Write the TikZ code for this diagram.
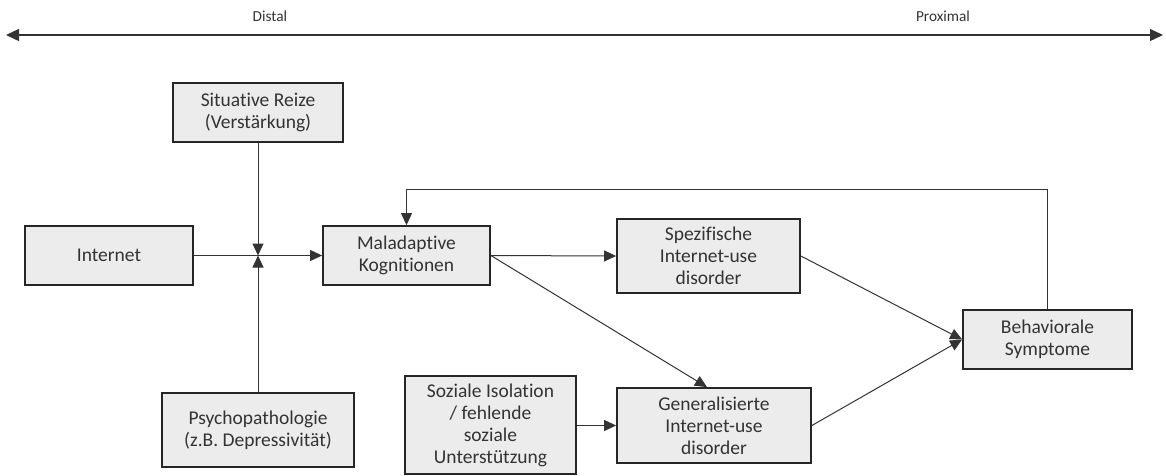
\documentclass[tikz,border=0pt]{standalone}
\usepackage{fontspec}
\setmainfont{Carlito}[Ligatures=NoCommon]
\usetikzlibrary{arrows.meta}
\tikzset{
  box/.style={draw=black!85, line width=1.8pt, fill=gray!15, align=center, inner sep=2pt,
    text=black!80, font=\fontsize{19.5}{22}\selectfont},
  lbl/.style={font=\fontsize{15.3}{18}\selectfont, inner sep=0pt, text=black!80},
  conn/.style={line width=1pt, draw=black!80},
  arr/.style={conn, -{Triangle[length=12pt,width=11pt]}},
}
\begin{document}
\begin{tikzpicture}[x=1pt,y=-1pt]
\useasboundingbox (0,0) rectangle (1166,475);
% axis
\coordinate (L) at (6,35);
\coordinate (R) at (1163,35);
\draw[conn, line width=1.3pt, {Triangle[length=13pt,width=12pt]}-{Triangle[length=13pt,width=12pt]}] (L) -- (R);
\node[lbl] (distal) at (270,16) {Distal};
\node[lbl] (proximal) at (943,16) {Proximal};
% boxes
\node[box, minimum width=170pt, minimum height=59pt] (sit) at (258,112.5) {Situative Reize\\(Verstärkung)};
\node[box, minimum width=168pt, minimum height=59pt] (int) at (109,255.5) {Internet};
\node[box, minimum width=167pt, minimum height=59pt] (mal) at (406.5,255.5) {Maladaptive\\Kognitionen};
\node[box, minimum width=192pt, minimum height=74pt] (psy) at (258,430) {Psychopathologie\\(z.B. Depressivität)};
\node[box, minimum width=183pt, minimum height=74pt] (spe) at (708.5,256) {Spezifische\\Internet-use\\disorder};
\node[box, minimum width=194pt, minimum height=75pt] (gen) at (714,425.5) {Generalisierte\\Internet-use\\disorder};
\node[box, minimum width=171pt, minimum height=98pt] (soz) at (490.5,425) {Soziale Isolation\\/ fehlende\\soziale\\Unterstützung};
\node[box, minimum width=169pt, minimum height=59pt] (beh) at (1047.5,339.5) {Behaviorale\\Symptome};
\coordinate (J) at (258,255.5);
% connectors
\draw[arr] (int.east) -- (mal.west);
\draw[arr] (sit.south) -- (J);
\draw[arr] (psy.north) -- (J);
\draw[arr] (mal.east) -- (spe.west);
\draw[arr] (mal.east) -- (gen.north -| 707,0);
\draw[arr] (soz.east |- gen.west) -- (gen.west);
\draw[arr] (spe.east) -- (beh.west);
\draw[arr] (gen.east) -- (beh.west);
\draw[arr] (beh.north) -- ++(0,-120) -| (mal.north);
\end{tikzpicture}
\end{document}
